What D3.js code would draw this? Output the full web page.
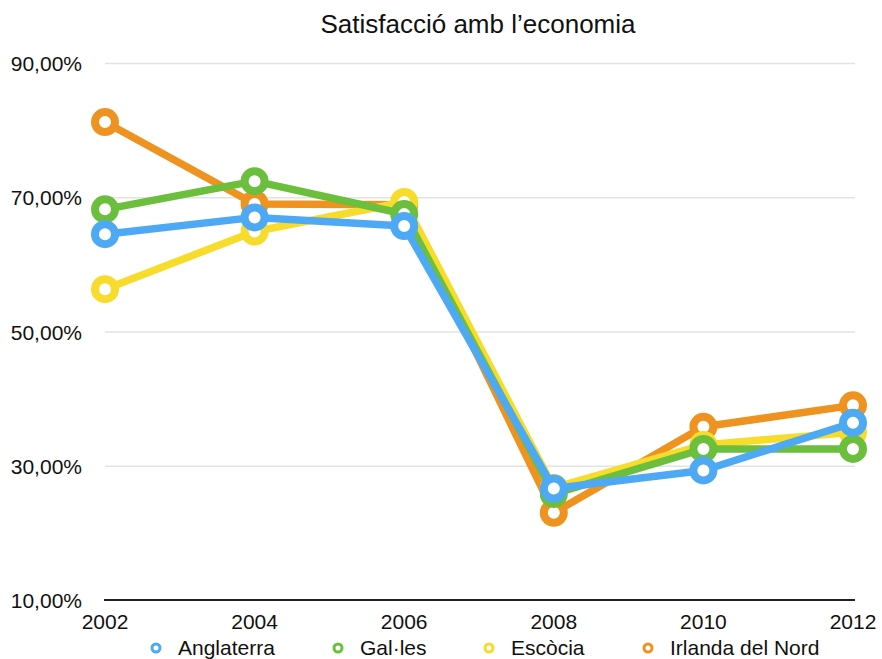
<!DOCTYPE html>
<html>
<head>
<meta charset="utf-8">
<script src="https://cdn.jsdelivr.net/npm/d3@7"></script>
<style>
  body { margin: 0; background: #fff; }
  text { font-family: "Liberation Sans", Arial, sans-serif; fill: #111; }
</style>
</head>
<body>
<div id="chart"></div>
<script>
const years = ["2002", "2004", "2006", "2008", "2010", "2012"];
const yTicks = [10, 30, 50, 70, 90];
const seriesNames = ["Anglaterra", "Gal·les", "Escòcia", "Irlanda del Nord"];
const anglaterra = [64.5, 67.0, 65.7, 26.6, 29.3, 36.4];
const galles = [68.2, 72.4, 67.5, 25.8, 32.5, 32.5];
const escocia = [56.3, 64.9, 69.3, 26.7, 33.1, 35.0];
const irlanda = [81.2, 69.0, 68.9, 23.0, 35.8, 39.0];
const colors = ["#4ea9f4", "#6bbf3c", "#f7dc2c", "#ee931f"];

const width = 882, height = 659;
const svg = d3.select("#chart").append("svg")
    .attr("width", width)
    .attr("height", height);

const x = d3.scalePoint().domain(years).range([105, 853]);
const y = d3.scaleLinear().domain([10, 90]).range([600, 63]);

// title
svg.append("text")
    .attr("x", 478)
    .attr("y", 33)
    .attr("text-anchor", "middle")
    .style("font-size", "26px")
    .text("Satisfacció amb l’economia");

// grid lines
svg.append("g")
    .attr("transform", "translate(105,0)")
    .call(d3.axisLeft(y).tickValues(yTicks.slice(1)).tickSize(-750).tickFormat(""))
    .call(g => g.select(".domain").remove())
    .call(g => g.selectAll("line").attr("stroke", "#e3e3e3").attr("stroke-width", 1.5));

// y labels
const fmt = v => d3.format(".2f")(v).replace(".", ",") + "%";
svg.append("g")
    .selectAll("text")
    .data(yTicks)
    .join("text")
    .attr("x", 82)
    .attr("y", d => y(d) + 8)
    .attr("text-anchor", "end")
    .style("font-size", "21px")
    .text(fmt);

// x axis
svg.append("line")
    .attr("x1", 104).attr("x2", 855)
    .attr("y1", y(10)).attr("y2", y(10))
    .attr("stroke", "#222").attr("stroke-width", 2);

svg.append("g")
    .selectAll("text")
    .data(years)
    .join("text")
    .attr("x", d => x(d))
    .attr("y", 629)
    .attr("text-anchor", "middle")
    .style("font-size", "21px")
    .text(d => d);

const allSeries = [anglaterra, galles, escocia, irlanda];
const line = d3.line().x((d, i) => x(years[i])).y(d => y(d));

// orange at the bottom, blue on top
const order = [3, 2, 1, 0];
order.forEach(k => {
    const g = svg.append("g");
    g.append("path")
        .datum(allSeries[k])
        .attr("d", line)
        .attr("fill", "none")
        .attr("stroke", colors[k])
        .attr("stroke-width", 7.5)
        .attr("stroke-linejoin", "round");
    g.selectAll("circle")
        .data(allSeries[k])
        .join("circle")
        .attr("cx", (d, i) => x(years[i]))
        .attr("cy", d => y(d))
        .attr("r", 10)
        .attr("fill", "#fff")
        .attr("stroke", colors[k])
        .attr("stroke-width", 8);
});

// legend
const legendX = [156, 338, 489, 648];
const legend = svg.append("g");
seriesNames.forEach((name, i) => {
    legend.append("circle")
        .attr("cx", legendX[i])
        .attr("cy", 648)
        .attr("r", 4)
        .attr("fill", "#fff")
        .attr("stroke", colors[i])
        .attr("stroke-width", 3);
    legend.append("text")
        .attr("x", legendX[i] + 22)
        .attr("y", 655)
        .style("font-size", "21px")
        .text(name);
});
</script>
</body>
</html>
